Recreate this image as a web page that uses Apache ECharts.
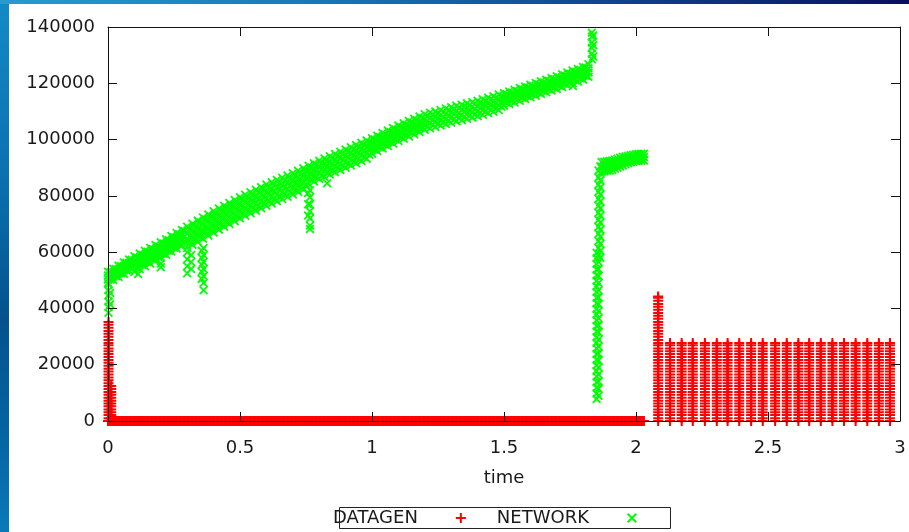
<!DOCTYPE html>
<html>
<head>
<meta charset="utf-8">
<script src="https://cdn.jsdelivr.net/npm/echarts@6/dist/echarts.min.js"></script>
<style>
    body { margin: 0; width: 909px; height: 532px; overflow: hidden; position: relative;
        background: linear-gradient(to bottom, #138ac6 0%, #0a6fae 35%, #03528c 60%, #0667a6 85%, #0a7ab8 100%); }
    #topbar { position: absolute; left: 0; top: 0; width: 909px; height: 4px;
        background: linear-gradient(to right, #2a9ad0 0%, #1678b8 35%, #0d3f8c 70%, #0a0f5e 100%); }
    #frame { position: absolute; left: 9px; top: 4px; width: 900px; height: 528px; background: #fff; }
    #main { position: absolute; left: 0; top: 0; width: 909px; height: 532px; }
</style>
</head>
<body>
<div id="topbar"></div>
<div id="frame"></div>
<div id="main"></div>
<script>
/* DATAGEN samples (red +) */
const datagenIdleTimes = [
    0.00,0.01,0.02,0.03,0.04,0.05,0.06,0.07,0.08,0.09,0.10,0.11,0.12,0.13,0.14,0.15,0.16,0.17,0.18,0.19,
    0.20,0.21,0.22,0.23,0.24,0.25,0.26,0.27,0.28,0.29,0.30,0.31,0.32,0.33,0.34,0.35,0.36,0.37,0.38,0.39,
    0.40,0.41,0.42,0.43,0.44,0.45,0.46,0.47,0.48,0.49,0.50,0.51,0.52,0.53,0.54,0.55,0.56,0.57,0.58,0.59,
    0.60,0.61,0.62,0.63,0.64,0.65,0.66,0.67,0.68,0.69,0.70,0.71,0.72,0.73,0.74,0.75,0.76,0.77,0.78,0.79,
    0.80,0.81,0.82,0.83,0.84,0.85,0.86,0.87,0.88,0.89,0.90,0.91,0.92,0.93,0.94,0.95,0.96,0.97,0.98,0.99,
    1.00,1.01,1.02,1.03,1.04,1.05,1.06,1.07,1.08,1.09,1.10,1.11,1.12,1.13,1.14,1.15,1.16,1.17,1.18,1.19,
    1.20,1.21,1.22,1.23,1.24,1.25,1.26,1.27,1.28,1.29,1.30,1.31,1.32,1.33,1.34,1.35,1.36,1.37,1.38,1.39,
    1.40,1.41,1.42,1.43,1.44,1.45,1.46,1.47,1.48,1.49,1.50,1.51,1.52,1.53,1.54,1.55,1.56,1.57,1.58,1.59,
    1.60,1.61,1.62,1.63,1.64,1.65,1.66,1.67,1.68,1.69,1.70,1.71,1.72,1.73,1.74,1.75,1.76,1.77,1.78,1.79,
    1.80,1.81,1.82,1.83,1.84,1.85,1.86,1.87,1.88,1.89,1.90,1.91,1.92,1.93,1.94,1.95,1.96,1.97,1.98,1.99,
    2.00,2.01,2.02,2.03
];
const datagenIdleTimesB = [
    0.005,0.015,0.025,0.035,0.045,0.055,0.065,0.075,0.085,0.095,0.105,0.115,0.125,0.135,0.145,0.155,0.165,0.175,0.185,0.195,
    0.205,0.215,0.225,0.235,0.245,0.255,0.265,0.275,0.285,0.295,0.305,0.315,0.325,0.335,0.345,0.355,0.365,0.375,0.385,0.395,
    0.405,0.415,0.425,0.435,0.445,0.455,0.465,0.475,0.485,0.495,0.505,0.515,0.525,0.535,0.545,0.555,0.565,0.575,0.585,0.595,
    0.605,0.615,0.625,0.635,0.645,0.655,0.665,0.675,0.685,0.695,0.705,0.715,0.725,0.735,0.745,0.755,0.765,0.775,0.785,0.795,
    0.805,0.815,0.825,0.835,0.845,0.855,0.865,0.875,0.885,0.895,0.905,0.915,0.925,0.935,0.945,0.955,0.965,0.975,0.985,0.995,
    1.005,1.015,1.025,1.035,1.045,1.055,1.065,1.075,1.085,1.095,1.105,1.115,1.125,1.135,1.145,1.155,1.165,1.175,1.185,1.195,
    1.205,1.215,1.225,1.235,1.245,1.255,1.265,1.275,1.285,1.295,1.305,1.315,1.325,1.335,1.345,1.355,1.365,1.375,1.385,1.395,
    1.405,1.415,1.425,1.435,1.445,1.455,1.465,1.475,1.485,1.495,1.505,1.515,1.525,1.535,1.545,1.555,1.565,1.575,1.585,1.595,
    1.605,1.615,1.625,1.635,1.645,1.655,1.665,1.675,1.685,1.695,1.705,1.715,1.725,1.735,1.745,1.755,1.765,1.775,1.785,1.795,
    1.805,1.815,1.825,1.835,1.845,1.855,1.865,1.875,1.885,1.895,1.905,1.915,1.925,1.935,1.945,1.955,1.965,1.975,1.985,1.995,
    2.005,2.015,2.025
];
const datagenStartTimes = [0.002, 0.012];
const datagenStartTops = [36000, 13000];
const datagenBurstTimes = [2.129,2.173,2.215,2.261,2.306,2.347,2.391,2.436,2.480,2.527,
                           2.571,2.615,2.656,2.700,2.744,2.788,2.832,2.876,2.920,2.962];
const datagenBurstLevels = [0,1000,2100,3100,4100,5200,6200,7200,8300,9300,10300,11400,12400,13400,
                            14500,15500,16500,17600,18600,19600,20700,21700,22700,23800,24800,25800,26900,27700];
const datagenPeakTime = 2.084;
const datagenPeakLevels = [28800,29900,31000,32000,33100,34200,35200,36300,37400,38400,
                           39500,40600,41600,42700,43800,44200];

/* NETWORK samples (green x) */
const netTimes = [
    0.00,0.02,0.04,0.06,0.08,0.10,0.12,0.14,0.16,0.18,0.20,0.22,0.24,0.26,0.28,0.30,0.32,0.34,0.36,0.38,
    0.40,0.42,0.44,0.46,0.48,0.50,0.52,0.54,0.56,0.58,0.60,0.62,0.64,0.66,0.68,0.70,0.72,0.74,0.76,0.78,
    0.80,0.82,0.84,0.86,0.88,0.90,0.92,0.94,0.96,0.98,1.00,1.02,1.04,1.06,1.08,1.10,1.12,1.14,1.16,1.18,
    1.20,1.22,1.24,1.26,1.28,1.30,1.32,1.34,1.36,1.38,1.40,1.42,1.44,1.46,1.48,1.50,1.52,1.54,1.56,1.58,
    1.60,1.62,1.64,1.66,1.68,1.70,1.72,1.74,1.76,1.78,1.80,1.82
];
const netTop = [
    53000,54100,55200,56300,57400,
    58500,59500,60500,61500,62500,63500,64600,65700,66800,67900,
    69000,70100,71200,72300,73400,74500,75500,76500,77500,78500,79500,80400,81300,82200,83100,84000,84800,85600,86400,87200,88000,88900,89800,
    90700,91600,92500,93300,94100,94900,95700,96500,97300,98100,98900,99700,
    100500,101400,102300,103200,104100,105000,105800,106600,107400,108200,109000,109500,110000,110500,111000,111500,112000,112400,112900,113300,113800,114300,114900,115400,116000,
    116500,117100,117700,118300,118900,119500,120100,120700,121300,121900,122500,123200,123800,124500,125100,125800,126800
];
const netUpper = [
    51700,52800,53900,55000,56100,
    56700,57700,58700,59700,60700,61700,62800,63900,65000,66100,
    66500,67600,68700,69800,70900,72000,73000,74000,75000,76000,77000,77900,78800,79700,80600,81500,82300,83100,83900,84700,85500,86400,87300,
    88500,89400,90300,91100,91900,92700,93500,94300,95100,95900,96700,97500,
    98700,99600,100500,101400,102300,103200,104000,104800,105600,106400,107200,107700,108200,108700,109200,109700,110200,110600,111100,111500,112000,112500,113100,113600,114200,
    115000,115600,116200,116800,117400,118000,118600,119200,119800,120400,121000,121700,122300,123000,123600,124300,125300
];
const netLower = [
    50300,51400,52500,53600,54700,
    54800,55800,56800,57800,58800,59800,60900,62000,63100,64200,
    64000,65100,66200,67300,68400,69500,70500,71500,72500,73500,74500,75400,76300,77200,78100,79000,79800,80600,81400,82200,83000,83900,84800,
    86400,87300,88200,89000,89800,90600,91400,92200,93000,93800,94600,95400,
    96800,97700,98600,99500,100400,101300,102100,102900,103700,104500,105300,105800,106300,106800,107300,107800,108300,108700,109200,109600,110100,110600,111200,111700,112300,
    113500,114100,114700,115300,115900,116500,117100,117700,118300,118900,119500,120200,120800,121500,122100,122800,123800
];
const netBottom = [
    49000,50100,51200,52300,53400,
    53000,54000,55000,56000,57000,58000,59100,60200,61300,62400,
    61500,62600,63700,64800,65900,67000,68000,69000,70000,71000,72000,72900,73800,74700,75600,76500,77300,78100,78900,79700,80500,81400,82300,
    84200,85100,86000,86800,87600,88400,89200,90000,90800,91600,92400,93200,
    95000,95900,96800,97700,98600,99500,100300,101100,101900,102700,103500,104000,104500,105000,105500,106000,106500,106900,107400,107800,108300,108800,109400,109900,110500,
    112000,112600,113200,113800,114400,115000,115600,116200,116800,117400,118000,118700,119300,120000,120600,121300,122300
];
// samples taken between the ones above
const netTimesB = [
    0.01,0.03,0.05,0.07,0.09,0.11,0.13,0.15,0.17,0.19,0.21,0.23,0.25,0.27,0.29,0.31,0.33,0.35,0.37,0.39,
    0.41,0.43,0.45,0.47,0.49,0.51,0.53,0.55,0.57,0.59,0.61,0.63,0.65,0.67,0.69,0.71,0.73,0.75,0.77,0.79,
    0.81,0.83,0.85,0.87,0.89,0.91,0.93,0.95,0.97,0.99,1.01,1.03,1.05,1.07,1.09,1.11,1.13,1.15,1.17,1.19,
    1.21,1.23,1.25,1.27,1.29,1.31,1.33,1.35,1.37,1.39,1.41,1.43,1.45,1.47,1.49,1.51,1.53,1.55,1.57,1.59,
    1.61,1.63,1.65,1.67,1.69,1.71,1.73,1.75,1.77,1.79,1.81
];
const netHighB = [
    52900,54000,55100,56200,57300,
    58100,59100,60100,61100,62100,63100,64200,65300,66400,67500,
    68300,69400,70500,71600,72700,73750,74750,75750,76750,77750,78700,79600,80500,81400,82300,83150,83950,84750,85550,86350,87200,88100,89000,
    90100,91000,91800,92600,93400,94200,95000,95800,96600,97400,98200,99000,
    100000,100900,101800,102700,103600,104500,105300,106100,106900,107700,108300,108800,109300,109800,110300,110800,111300,111700,112200,112600,113100,113700,114200,114800,115300,
    116100,116700,117300,117900,118500,119100,119700,120300,120900,121500,122100,122800,123400,124100,124700,125600
];
const netMidB = [
    51600,52700,53800,54900,56000,
    56300,57300,58300,59300,60300,61300,62400,63500,64600,65700,
    65800,66900,68000,69100,70200,71250,72250,73250,74250,75250,76200,77100,78000,78900,79800,80650,81450,82250,83050,83850,84700,85600,86500,
    87900,88800,89600,90400,91200,92000,92800,93600,94400,95200,96000,96800,
    98200,99100,100000,100900,101800,102700,103500,104300,105100,105900,106500,107000,107500,108000,108500,109000,109500,109900,110400,110800,111300,111900,112400,113000,113500,
    114600,115200,115800,116400,117000,117600,118200,118800,119400,120000,120600,121300,121900,122600,123200,124100
];
const netLowB = [
    50300,51400,52500,53600,54700,
    54400,55400,56400,57400,58400,59400,60500,61600,62700,63800,
    63300,64400,65500,66600,67700,68750,69750,70750,71750,72750,73700,74600,75500,76400,77300,78150,78950,79750,80550,81350,82200,83100,84000,
    85700,86600,87400,88200,89000,89800,90600,91400,92200,93000,93800,94600,
    96400,97300,98200,99100,100000,100900,101700,102500,103300,104100,104700,105200,105700,106200,106700,107200,107700,108100,108600,109000,109500,110100,110600,111200,111700,
    113100,113700,114300,114900,115500,116100,116700,117300,117900,118500,119100,119800,120400,121100,121700,122600
];
// isolated drops and spikes: [time, value]
const netOutliers = [
    [0.002,38500],[0.002,40500],[0.002,42500],[0.002,44500],[0.002,46500],[0.002,48500],[0.008,41500],[0.008,45500],
    [0.114,52200],
    [0.200,56000],[0.200,54600],
    [0.300,60000],[0.300,57500],[0.300,55000],[0.300,52500],
    [0.315,59000],[0.315,56500],[0.315,54000],
    [0.355,60500],[0.355,58000],[0.355,55500],[0.355,53000],[0.355,50500],
    [0.362,61500],[0.362,59000],[0.362,56500],[0.362,54000],[0.362,51500],[0.362,49000],[0.362,46500],
    [0.758,81000],[0.758,77000],[0.758,73000],
    [0.765,82000],[0.765,79500],[0.765,77000],[0.765,74500],[0.765,72000],[0.765,69500],[0.765,68200],
    [0.830,84500],
    [1.761,119000],
    [1.833,128500],[1.833,130500],[1.833,132500],[1.833,134500],[1.833,136500],[1.833,138000],
    [1.838,129500],[1.838,133500],[1.838,137000]
];
const netFallTimes = [1.851, 1.858, 1.865];
const netFallValues = [
    [7800,9800,11800,13800,15800,17800,19800,21800,23800,25800,27800,29800,31800,33800,35800,37800,39800,41800,43800,45800,47800,49800,51800,53800,55800,57800,59800],
    [9000,11500,14000,16500,19000,21500,24000,26500,29000,31500,34000,36500,39000,41500,44000,46500,49000,51500,54000,56500,59000,61500,64000,66500,69000,71500,74000,76500,79000,81500,84000,86500,89000],
    [58000,60500,63000,65500,68000,70500,73000,75500,78000,80500,83000,85500,88000,90500]
];
const netPlateauTimes = [1.870,1.880,1.890,1.900,1.910,1.920,1.930,1.940,1.950,1.960,1.970,1.980,1.990,2.000,2.010,2.020,2.030];
const netPlateauTop = [92000,92100,92300,92400,92600,92900,93200,93500,93800,94000,94200,94400,94600,94800,94900,95000,95000];
const netPlateauMid = [90300,90400,90600,90700,90900,91200,91600,92000,92300,92600,92900,93100,93400,93600,93700,93800,93800];
const netPlateauBottom = [88600,88700,88900,89000,89200,89600,90000,90400,90800,91200,91600,91900,92200,92400,92500,92600,92600];

const xTicks = [0, 3, 0.5];
const yTicks = [0, 140000, 20000];

const plusIcon = 'path://M4,0L6,0L6,4L10,4L10,6L6,6L6,10L4,10L4,6L0,6L0,4L4,4Z';
const crossIcon = 'path://M0,1.4L1.4,0L5,3.6L8.6,0L10,1.4L6.4,5L10,8.6L8.6,10L5,6.4L1.4,10L0,8.6L3.6,5Z';

var datagenData = [];
datagenIdleTimes.concat(datagenIdleTimesB).forEach(t => datagenData.push([t, 0]));
datagenStartTimes.forEach((t, i) => {
    datagenBurstLevels.concat(datagenPeakLevels).forEach(v => {
        if (v <= datagenStartTops[i]) datagenData.push([t, v]);
    });
});
datagenBurstTimes.forEach(t => datagenBurstLevels.forEach(v => datagenData.push([t, v])));
datagenBurstLevels.concat(datagenPeakLevels).forEach(v => datagenData.push([datagenPeakTime, v]));

var networkData = [];
netTimes.forEach((t, i) => {
    networkData.push([t, netTop[i]], [t, netUpper[i]], [t, netLower[i]], [t, netBottom[i]]);
});
netTimesB.forEach((t, i) => {
    networkData.push([t, netHighB[i]], [t, netMidB[i]], [t, netLowB[i]]);
});
netOutliers.forEach(p => networkData.push(p));
netFallTimes.forEach((t, i) => netFallValues[i].forEach(v => networkData.push([t, v])));
netPlateauTimes.forEach((t, i) => {
    networkData.push([t, netPlateauTop[i]], [t, netPlateauMid[i]], [t, netPlateauBottom[i]]);
});

var chartDom = document.getElementById('main');
var myChart = echarts.init(chartDom);
var option;

var font = 'DejaVu Sans';
var axisCommon = {
    type: 'value',
    z: 5,
    axisLine: {show: true, onZero: false, lineStyle: {color: '#111', width: 1}},
    axisTick: {show: true, inside: true, length: 9, lineStyle: {color: '#111', width: 1}},
    splitLine: {show: false},
    minorTick: {show: false}
};

option = {
    animation: false,
    grid: {left: 108, right: 9, top: 27, bottom: 111, outerBoundsMode: 'none', containLabel: false},
    xAxis: [
        Object.assign({}, axisCommon, {
            min: xTicks[0], max: xTicks[1], interval: xTicks[2], position: 'bottom',
            name: 'time', nameLocation: 'middle', nameGap: 48,
            nameTextStyle: {fontSize: 18, color: '#1a1a1a', fontFamily: font},
            axisLabel: {margin: 18, fontSize: 18, color: '#1a1a1a', fontFamily: font}
        }),
        Object.assign({}, axisCommon, {
            min: xTicks[0], max: xTicks[1], interval: xTicks[2], position: 'top',
            axisLabel: {show: false}
        })
    ],
    yAxis: [
        Object.assign({}, axisCommon, {
            min: yTicks[0], max: yTicks[1], interval: yTicks[2], position: 'left',
            axisLabel: {margin: 13, fontSize: 18, color: '#1a1a1a', fontFamily: font,
                formatter: v => String(v)}
        }),
        Object.assign({}, axisCommon, {
            min: yTicks[0], max: yTicks[1], interval: yTicks[2], position: 'right',
            axisLabel: {show: false}
        })
    ],
    legend: {
        left: 333, top: 509, padding: 0, itemGap: 31, align: 'right',
        itemWidth: 76, itemHeight: 10, selectedMode: false,
        textStyle: {fontSize: 18, color: '#1a1a1a', fontFamily: font},
        data: [
            {name: 'DATAGEN', icon: plusIcon},
            {name: 'NETWORK', icon: crossIcon}
        ]
    },
    graphic: [{
        type: 'rect', z: 0,
        shape: {x: 339.5, y: 507.5, width: 331, height: 21},
        style: {fill: 'none', stroke: '#222', lineWidth: 1}
    }],
    series: [
        {
            name: 'DATAGEN', type: 'scatter', z: 2, clip: false, silent: true,
            symbol: plusIcon, symbolSize: 10,
            itemStyle: {color: '#ff0000', opacity: 1},
            data: datagenData
        },
        {
            name: 'NETWORK', type: 'scatter', z: 3, clip: false, silent: true,
            symbol: crossIcon, symbolSize: 9,
            itemStyle: {color: '#00ff00', opacity: 1},
            data: networkData
        }
    ]
};

option && myChart.setOption(option);
</script>
</body>
</html>
